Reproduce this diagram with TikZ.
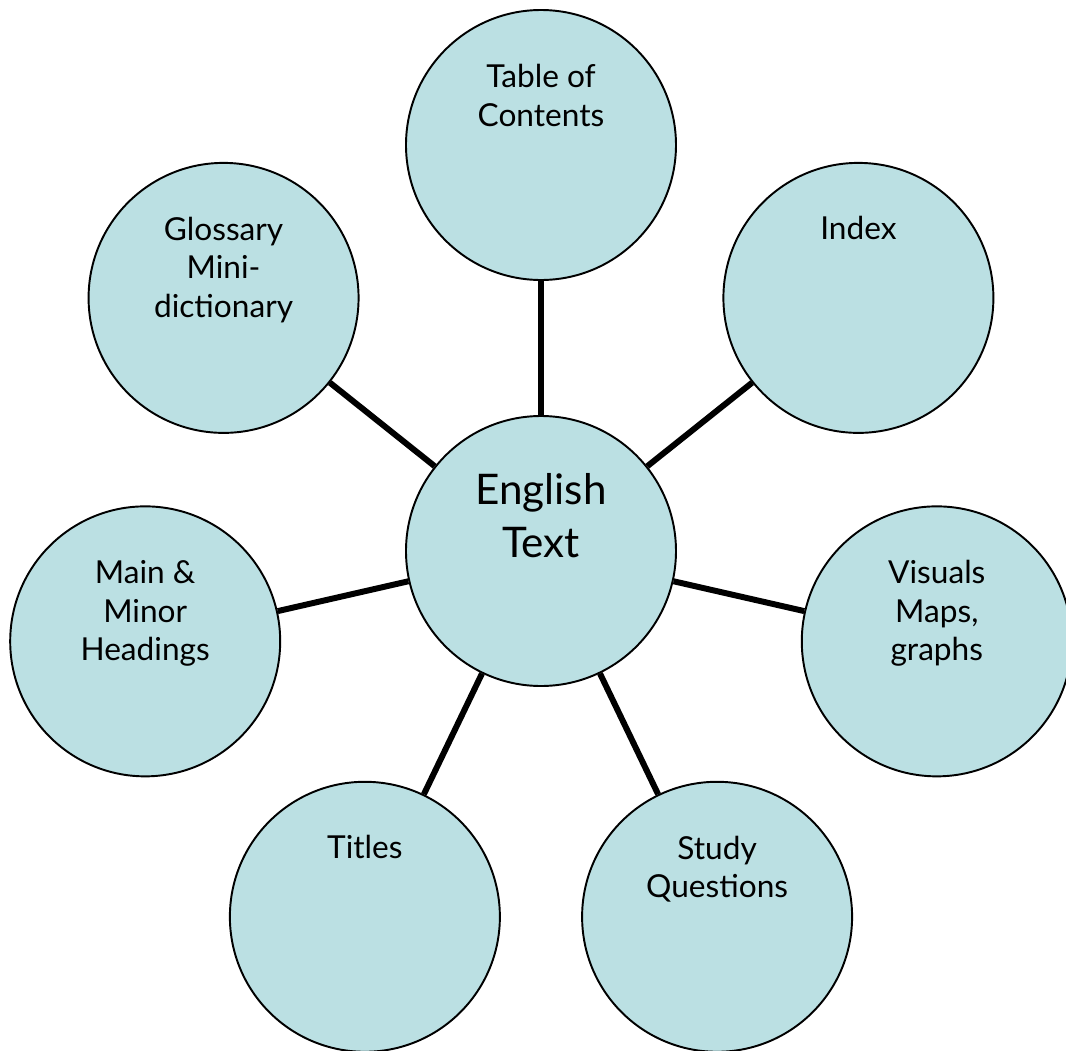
\documentclass[tikz,border=0pt]{standalone}
\usepackage{fontspec}
\setmainfont{Lato}
\usetikzlibrary{positioning}
\definecolor{bubblefill}{RGB}{187,224,227}
\tikzset{
  bubble/.style={circle, draw, line width=1.1pt, fill=bubblefill, minimum size=5.4cm, inner sep=0pt},
  caption/.style={align=center, anchor=base, inner sep=0pt, font=\fontsize{18}{22}\selectfont},
  bigcaption/.style={align=center, anchor=base, inner sep=0pt, font=\fontsize{24}{29.6}\selectfont},
  spoke/.style={line width=3.4pt},
}

\begin{document}
\begin{tikzpicture}
        \useasboundingbox (-10.82,-9.98) rectangle (10.5,11.02);
        \node[bubble] (english) at (0,0) {};
        \node[bubble] (toc) at (90:8.12) {};
        \node[bubble] (index) at (38.57:8.12) {};
        \node[bubble] (visuals) at (-12.86:8.12) {};
        \node[bubble] (study) at (-64.29:8.12) {};
        \node[bubble] (titles) at (-115.71:8.12) {};
        \node[bubble] (headings) at (-167.14:8.12) {};
        \node[bubble] (glossary) at (141.43:8.12) {};
        \draw[spoke] (english) -- (toc);
        \draw[spoke] (english) -- (index);
        \draw[spoke] (english) -- (visuals);
        \draw[spoke] (english) -- (study);
        \draw[spoke] (english) -- (titles);
        \draw[spoke] (english) -- (headings);
        \draw[spoke] (english) -- (glossary);
        % the base anchor sits on the last line
        \node[bigcaption] (englishtext) at ([yshift=-0.12cm]english.center) {English\\Text};
        \node[caption] (toctext) at ([yshift=0.38cm]toc.center) {Table of\\Contents};
        \node[caption] (indextext) at ([yshift=1.16cm]index.center) {Index};
        \node[caption] (visualstext) at ([yshift=-0.39cm]visuals.center) {Visuals\\Maps,\\graphs};
        \node[caption] (studytext) at ([yshift=0.38cm]study.center) {Study\\Questions};
        \node[caption] (titlestext) at ([yshift=1.16cm]titles.center) {Titles};
        \node[caption] (headingstext) at ([yshift=-0.39cm]headings.center) {Main \&\\Minor\\Headings};
        \node[caption] (glossarytext) at ([yshift=-0.39cm]glossary.center) {Glossary\\Mini-\\dictionary};
      \end{tikzpicture}
\end{document}
